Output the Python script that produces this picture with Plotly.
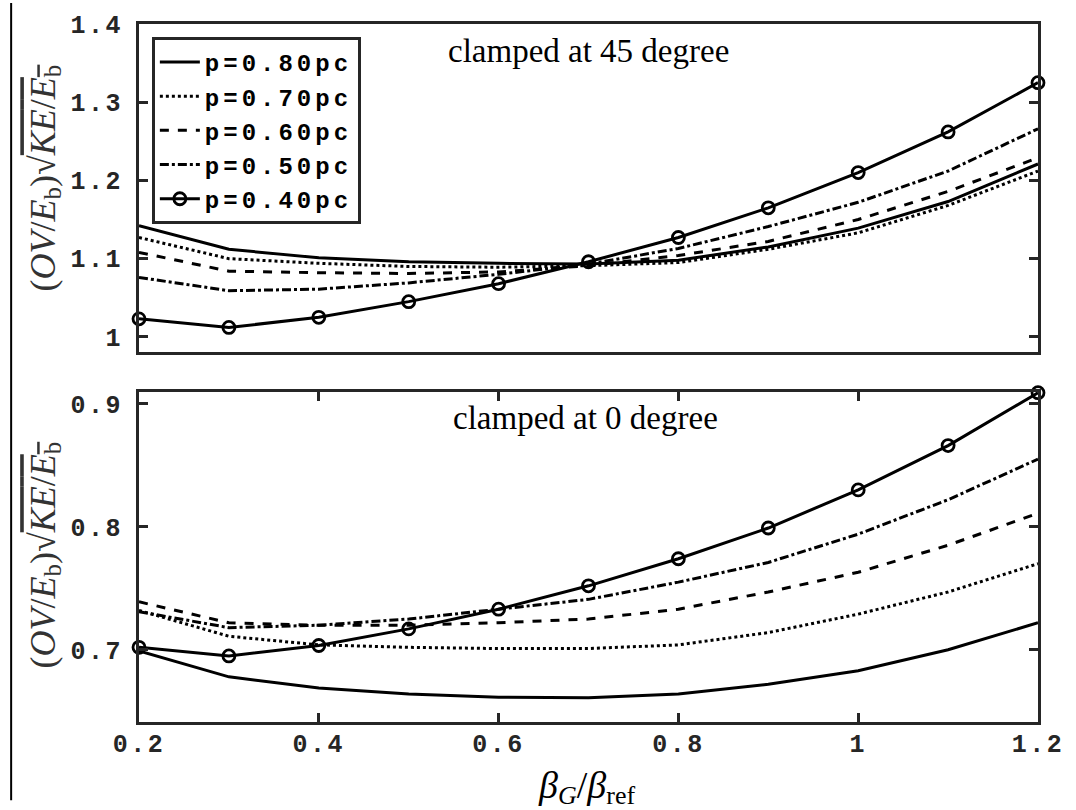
import plotly.graph_objects as go

x_vals = [0.2, 0.3, 0.4, 0.5, 0.6, 0.7, 0.8, 0.9, 1.0, 1.1, 1.2]

# clamped at 45 degree (top panel)
top_p080 = [1.142, 1.112, 1.101, 1.096, 1.094, 1.093, 1.098, 1.115, 1.139, 1.173, 1.221]
top_p070 = [1.127, 1.100, 1.094, 1.090, 1.089, 1.091, 1.095, 1.112, 1.133, 1.168, 1.212]
top_p060 = [1.108, 1.084, 1.082, 1.081, 1.083, 1.091, 1.104, 1.122, 1.150, 1.186, 1.229]
top_p050 = [1.076, 1.059, 1.061, 1.069, 1.080, 1.093, 1.113, 1.141, 1.172, 1.212, 1.266]
top_p040 = [1.023, 1.012, 1.025, 1.045, 1.068, 1.096, 1.127, 1.165, 1.210, 1.262, 1.325]

# clamped at 0 degree (bottom panel)
bot_p080 = [0.699, 0.678, 0.669, 0.664, 0.6615, 0.661, 0.664, 0.672, 0.683, 0.700, 0.722]
bot_p070 = [0.732, 0.711, 0.704, 0.702, 0.701, 0.701, 0.704, 0.714, 0.729, 0.747, 0.770]
bot_p060 = [0.739, 0.722, 0.720, 0.720, 0.722, 0.725, 0.733, 0.747, 0.763, 0.785, 0.811]
bot_p050 = [0.731, 0.718, 0.720, 0.725, 0.733, 0.741, 0.755, 0.771, 0.794, 0.822, 0.855]
bot_p040 = [0.702, 0.695, 0.7035, 0.717, 0.733, 0.752, 0.774, 0.799, 0.830, 0.866, 0.909]

series_names = ["p=0.80pc", "p=0.70pc", "p=0.60pc", "p=0.50pc", "p=0.40pc"]
series_dash = ["solid", "dot", "dash", "dashdot", "solid"]
series_marker = [False, False, False, False, True]

x_tickvals = [0.2, 0.4, 0.6, 0.8, 1.0, 1.2]
x_ticktext = ["0.2", "0.4", "0.6", "0.8", "1", "1.2"]
top_tickvals = [1.0, 1.1, 1.2, 1.3, 1.4]
top_ticktext = ["1", "1.1", "1.2", "1.3", "1.4"]
bot_tickvals = [0.7, 0.8, 0.9]
bot_ticktext = ["0.7", "0.8", "0.9"]

AX = "#262626"
MONO = "Liberation Mono"
SERIF = "Liberation Serif"


def spaced(s, sp=3):
    return f"<span style='letter-spacing:{sp}px'>{s}</span>"


def sub(s, size):
    return f"<span style='font-size:{size}px;baseline-shift:-22%'>{s}</span>"


fig = go.Figure()
top_data = [top_p080, top_p070, top_p060, top_p050, top_p040]
bot_data = [bot_p080, bot_p070, bot_p060, bot_p050, bot_p040]

for i, name in enumerate(series_names):
    for panel, data in (("top", top_data), ("bot", bot_data)):
        fig.add_trace(go.Scatter(
            x=x_vals, y=data[i],
            xaxis="x" if panel == "top" else "x2",
            yaxis="y" if panel == "top" else "y2",
            mode="lines+markers" if series_marker[i] else "lines",
            line=dict(color="black", width=3, dash=series_dash[i]),
            marker=dict(symbol="circle-open", size=12, color="black",
                        line=dict(width=2.8, color="black")),
            name=spaced(name, 4),
            showlegend=(panel == "top"),
            cliponaxis=False,
        ))

axis_common = dict(
    showline=True, linecolor=AX, linewidth=3, mirror="ticks",
    showgrid=False, zeroline=False,
    ticks="inside", ticklen=9, tickwidth=3, tickcolor=AX,
    tickfont=dict(family=MONO, size=25, color=AX, weight="bold"),
)

fig.update_layout(
    width=1076, height=810,
    paper_bgcolor="white", plot_bgcolor="white",
    margin=dict(l=139, r=30, t=17, b=88),
    xaxis=dict(axis_common, domain=[0, 1], range=[0.2, 1.2], anchor="y",
               ticks="", showticklabels=False, tickvals=x_tickvals),
    yaxis=dict(axis_common, domain=[0.5305, 1.0], range=[0.981, 1.4], anchor="x",
               tickvals=top_tickvals, ticktext=[spaced(t, 2.5) for t in top_ticktext],
               ticklabelstandoff=8),
    xaxis2=dict(axis_common, domain=[0, 1], range=[0.2, 1.2], anchor="y2",
                tickvals=x_tickvals, ticktext=[spaced(t, 2.5) for t in x_ticktext],
                ticklabelstandoff=-3),
    yaxis2=dict(axis_common, domain=[0, 0.473], range=[0.6413, 0.9097], anchor="x2",
                tickvals=bot_tickvals, ticktext=[spaced(t, 2.5) for t in bot_ticktext],
                ticklabelstandoff=8),
    legend=dict(
        x=0.0143, y=0.9816, xanchor="left", yanchor="top",
        bgcolor="white", bordercolor=AX, borderwidth=3,
        font=dict(family=MONO, size=24, color="black", weight="bold"),
        itemwidth=40, tracegroupgap=0,
    ),
    showlegend=True,
)

ann_font = dict(family=SERIF, size=33, color="black")
fig.add_annotation(text="clamped at 45 degree", xref="paper", yref="paper",
                   x=0.4995, y=0.9617, xanchor="center", yanchor="middle",
                   showarrow=False, font=ann_font)
fig.add_annotation(text="clamped at 0 degree", xref="paper", yref="paper",
                   x=0.497, y=0.4355, xanchor="center", yanchor="middle",
                   showarrow=False, font=ann_font)
fig.add_annotation(text="<i>β</i>" + sub("<i>G</i>", 26) + "/<i>β</i>" + sub("ref", 26),
                   xref="paper", yref="paper", x=0.498, y=-0.0936,
                   xanchor="center", yanchor="middle",
                   showarrow=False, font=dict(family=SERIF, size=38, color="black"))

ylab = ("(<i>OV</i>/<i>E</i>" + sub("b", 25) + ")√"
        "<span style='text-decoration:overline'><i>KE</i>/<i>E</i>" + sub("b", 25)
        + "</span>")
for yc in (0.780, 0.2397):
    fig.add_annotation(text=ylab, xref="paper", yref="paper", x=-0.1047, y=yc,
                       xanchor="center", yanchor="middle",
                       textangle=-90, showarrow=False,
                       font=dict(family=SERIF, size=36, color="#333333"))

# thin vertical rule at the far left of the original figure
fig.add_shape(type="line", xref="paper", yref="paper",
              x0=(10 - 139) / 907, x1=(10 - 139) / 907, y0=1.03, y1=-0.112,
              line=dict(color="black", width=2))

fig.write_html("out.html")
